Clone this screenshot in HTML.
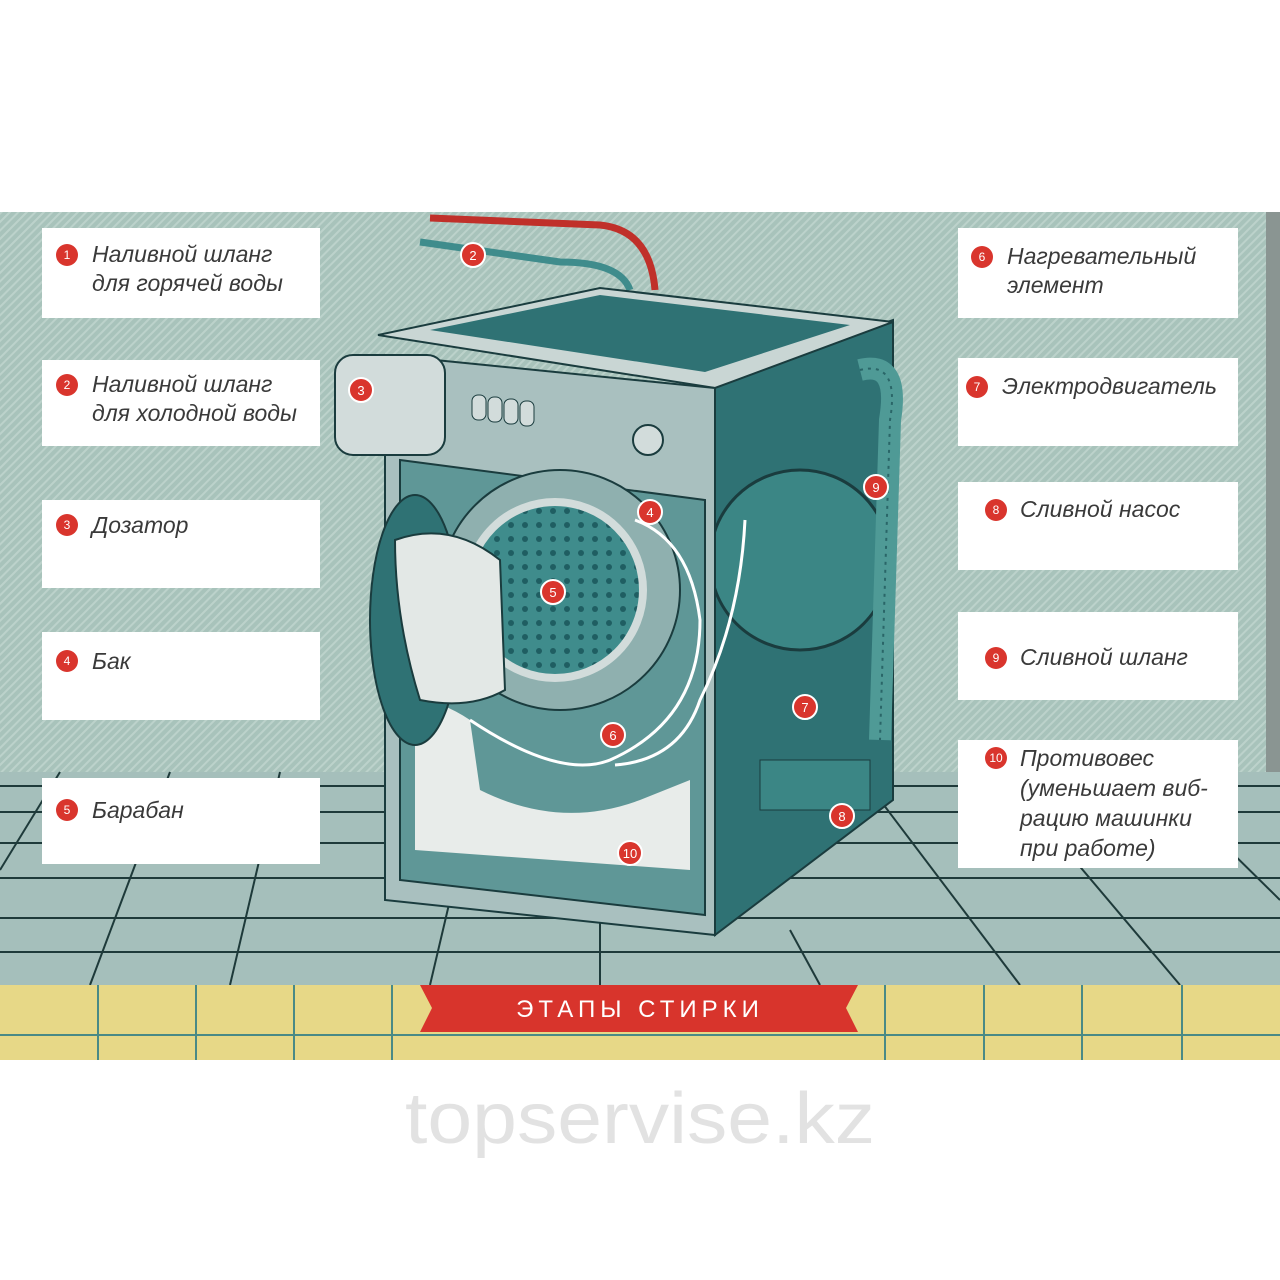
<!DOCTYPE html>
<html><head><meta charset="utf-8"><style>
html,body{margin:0;padding:0;background:#fff}
body{width:1280px;height:1280px;overflow:hidden;position:relative;font-family:"Liberation Sans","Noto Sans CJK SC",sans-serif}
svg{position:absolute;left:0;top:0}
</style></head><body>
<svg width="1280" height="1280" viewBox="0 0 1280 1280" xmlns="http://www.w3.org/2000/svg">
<defs>
<pattern id="st" width="6" height="6" patternUnits="userSpaceOnUse" patternTransform="rotate(45)">
<rect width="6" height="6" fill="#a8c3bb"/><rect width="2" height="6" fill="#bcd2cb"/>
</pattern>
<pattern id="dots" width="14" height="14" patternUnits="userSpaceOnUse">
<rect width="14" height="14" fill="#3f8c8c"/><circle cx="7" cy="7" r="3" fill="#1f5e62"/>
</pattern>
</defs>
<rect x="0" y="212" width="1280" height="560" fill="url(#st)"/>
<rect x="1266" y="212" width="14" height="566" fill="#8a9592"/>
<rect x="0" y="772" width="1280" height="213" fill="#a5bfbb"/>
<g stroke="#1e3a3a" stroke-width="2" fill="none">
<line x1="0" y1="786" x2="1280" y2="786"/>
<line x1="0" y1="812" x2="1280" y2="812"/>
<line x1="0" y1="843" x2="1280" y2="843"/>
<line x1="0" y1="878" x2="1280" y2="878"/>
<line x1="0" y1="918" x2="1280" y2="918"/>
<line x1="0" y1="952" x2="1280" y2="952"/>
<line x1="60" y1="772" x2="0" y2="870"/>
<line x1="170" y1="772" x2="90" y2="985"/>
<line x1="280" y1="772" x2="230" y2="985"/>
<line x1="450" y1="900" x2="430" y2="985"/>
<line x1="600" y1="920" x2="600" y2="985"/>
<line x1="790" y1="930" x2="820" y2="985"/>
<line x1="880" y1="800" x2="1020" y2="985"/>
<line x1="1000" y1="772" x2="1180" y2="985"/>
<line x1="1150" y1="772" x2="1280" y2="900"/>
</g>
<rect x="0" y="985" width="1280" height="75" fill="#e7d887"/>
<g stroke="#4a8a86" stroke-width="2">
<line x1="0" y1="1035" x2="1280" y2="1035"/>
<line x1="98" y1="985" x2="98" y2="1060"/><line x1="196" y1="985" x2="196" y2="1060"/>
<line x1="294" y1="985" x2="294" y2="1060"/><line x1="392" y1="985" x2="392" y2="1060"/>
<line x1="885" y1="985" x2="885" y2="1060"/><line x1="984" y1="985" x2="984" y2="1060"/>
<line x1="1082" y1="985" x2="1082" y2="1060"/><line x1="1182" y1="985" x2="1182" y2="1060"/>
</g>
<polygon points="420,985 858,985 846,1008 858,1032 420,1032 432,1008" fill="#d8342c"/>
<text x="640" y="1017" text-anchor="middle" font-size="24" fill="#fff" letter-spacing="5">ЭТАПЫ СТИРКИ</text>
<path d="M430 218 L600 225 Q650 230 655 290" stroke="#c0302a" stroke-width="7" fill="none"/>
<path d="M420 242 L560 262 Q620 262 630 290" stroke="#3f8c8c" stroke-width="7" fill="none"/>
<polygon points="715,385 893,320 893,800 715,935" fill="#2f7274" stroke="#1a3c3e" stroke-width="2"/>
<circle cx="800" cy="560" r="90" fill="#3b8685" stroke="#1a3c3e" stroke-width="3"/>
<path d="M860 370 Q900 360 890 420 L880 740" stroke="#4f9a96" stroke-width="22" fill="none"/>
<path d="M860 370 Q900 360 890 420 L880 740" stroke="#2a6668" stroke-width="2" stroke-dasharray="3 5" fill="none"/>
<rect x="760" y="760" width="110" height="50" fill="#3b8685" stroke="#1a3c3e"/>
<polygon points="378,335 600,288 893,322 715,388" fill="#c9d6d4" stroke="#1a3c3e" stroke-width="2"/>
<polygon points="430,330 600,295 850,325 705,372" fill="#2f7274"/>
<polygon points="385,355 715,388 715,935 385,900" fill="#a9c0bf" stroke="#1a3c3e" stroke-width="2"/>
<polygon points="400,460 705,500 705,915 400,880" fill="#5f9797" stroke="#1a3c3e" stroke-width="2"/>
<rect x="335" y="355" width="110" height="100" rx="18" fill="#d2dcdb" stroke="#1a3c3e" stroke-width="2"/>
<g fill="#d2dcdb" stroke="#1a3c3e"><rect x="472" y="395" width="14" height="25" rx="6"/><rect x="488" y="397" width="14" height="25" rx="6"/><rect x="504" y="399" width="14" height="25" rx="6"/><rect x="520" y="401" width="14" height="25" rx="6"/></g>
<circle cx="648" cy="440" r="15" fill="#d2dcdb" stroke="#1a3c3e" stroke-width="2"/>
<circle cx="560" cy="590" r="120" fill="#8fb0af" stroke="#1a3c3e" stroke-width="2"/>
<circle cx="555" cy="590" r="88" fill="url(#dots)" stroke="#d2dcdb" stroke-width="8"/>
<path d="M415 850 L415 700 Q440 700 470 720 L480 790 Q560 830 640 800 L690 780 L690 870 L415 850Z" fill="#e8ecea"/>
<ellipse cx="415" cy="620" rx="45" ry="125" fill="#2f7274" stroke="#1a3c3e" stroke-width="2"/>
<path d="M395 540 Q450 520 500 560 L505 690 Q470 710 420 700 Q395 620 395 540Z" fill="#e3e8e6" stroke="#1a3c3e" stroke-width="2"/>
<path d="M635 520 Q690 540 700 620 Q700 720 610 760 Q560 780 470 720" stroke="#fff" stroke-width="3" fill="none"/>
<path d="M745 520 Q740 620 700 700 Q680 760 615 765" stroke="#fff" stroke-width="3" fill="none"/>
<g fill="#d9352d" stroke="#fff" stroke-width="2">
<circle cx="473" cy="255" r="12"/><circle cx="361" cy="390" r="12"/><circle cx="650" cy="512" r="12"/><circle cx="553" cy="592" r="12"/>
<circle cx="613" cy="735" r="12"/><circle cx="805" cy="707" r="12"/><circle cx="842" cy="816" r="12"/><circle cx="876" cy="487" r="12"/><circle cx="630" cy="853" r="12"/>
</g>
<g fill="#fff" font-size="13" text-anchor="middle">
<text x="473" y="260">2</text><text x="361" y="395">3</text><text x="650" y="517">4</text><text x="553" y="597">5</text><text x="613" y="740">6</text><text x="805" y="712">7</text><text x="842" y="821">8</text><text x="876" y="492">9</text><text x="630" y="858">10</text>
</g>
<g fill="#fff">
<rect x="42" y="228" width="278" height="90"/><rect x="42" y="360" width="278" height="86"/><rect x="42" y="500" width="278" height="88"/><rect x="42" y="632" width="278" height="88"/><rect x="42" y="778" width="278" height="86"/>
<rect x="958" y="228" width="280" height="90"/><rect x="958" y="358" width="280" height="88"/><rect x="958" y="482" width="280" height="88"/><rect x="958" y="612" width="280" height="88"/><rect x="958" y="740" width="280" height="128"/>
</g>
<g fill="#d9352d">
<circle cx="67" cy="255" r="11"/><circle cx="67" cy="385" r="11"/><circle cx="67" cy="525" r="11"/><circle cx="67" cy="661" r="11"/><circle cx="67" cy="810" r="11"/>
<circle cx="982" cy="257" r="11"/><circle cx="977" cy="387" r="11"/><circle cx="996" cy="510" r="11"/><circle cx="996" cy="658" r="11"/><circle cx="996" cy="758" r="11"/>
</g>
<g fill="#fff" font-size="12" text-anchor="middle">
<text x="67" y="259">1</text><text x="67" y="389">2</text><text x="67" y="529">3</text><text x="67" y="665">4</text><text x="67" y="814">5</text>
<text x="982" y="261">6</text><text x="977" y="391">7</text><text x="996" y="514">8</text><text x="996" y="662">9</text><text x="996" y="762">10</text>
</g>
<g fill="#3a3a3a" font-size="23" font-style="italic">
<text x="92" y="262">Наливной шланг</text><text x="92" y="291">для горячей воды</text>
<text x="92" y="392">Наливной шланг</text><text x="92" y="421">для холодной воды</text>
<text x="92" y="533">Дозатор</text>
<text x="92" y="669">Бак</text>
<text x="92" y="818">Барабан</text>
<text x="1007" y="264">Нагревательный</text><text x="1007" y="293">элемент</text>
<text x="1002" y="394">Электродвигатель</text>
<text x="1020" y="517">Сливной насос</text>
<text x="1020" y="665">Сливной шланг</text>
<text x="1020" y="766">Противовес</text><text x="1020" y="796">(уменьшает виб-</text><text x="1020" y="826">рацию машинки</text><text x="1020" y="856">при работе)</text>
</g>
<text x="640" y="1143" text-anchor="middle" font-size="72" fill="#e2e2e2" textLength="470" lengthAdjust="spacingAndGlyphs">topservise.kz</text>
</svg>
</body></html>
